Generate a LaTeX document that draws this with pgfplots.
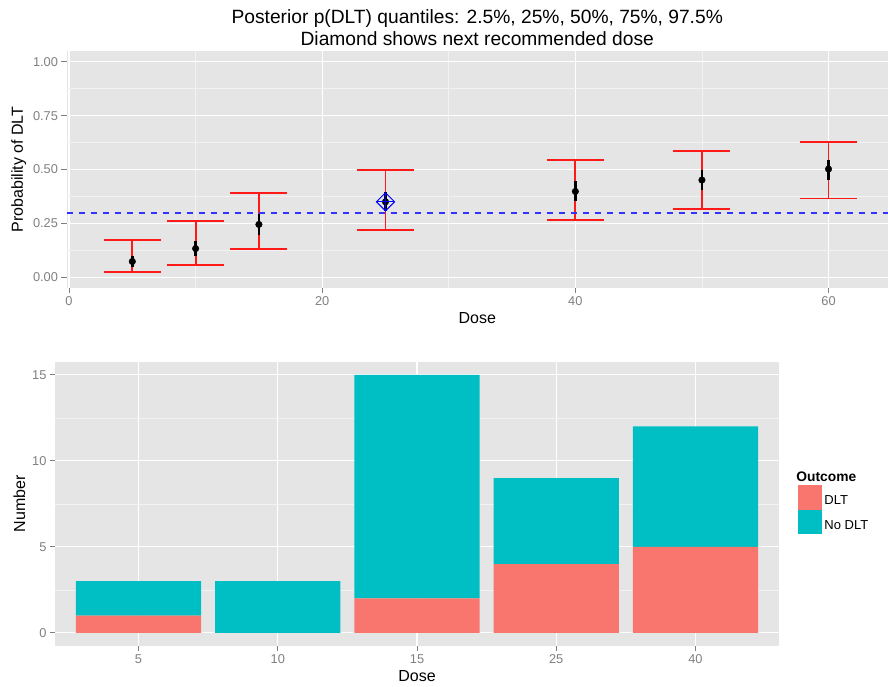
\documentclass[border=0pt]{standalone}
\usepackage{pgfplots}
\pgfplotsset{compat=1.18}
\usepackage{pgfplotstable}
\usepackage{fontspec}
\setmainfont{Liberation Sans}
\definecolor{ggbg}{HTML}{E5E5E5}
\definecolor{ggminor}{HTML}{F2F2F2}
\definecolor{ggtick}{HTML}{7F7F7F}
\definecolor{ggred}{HTML}{F8766D}
\definecolor{ggteal}{HTML}{00BFC4}
\definecolor{dashblue}{HTML}{3333FF}
\definecolor{barred}{HTML}{FF1A1A}

\pgfplotstableread{
dose med
5  0.073
10 0.133
15 0.245
25 0.350
40 0.398
50 0.451
60 0.502
}\medians

\pgfplotstableread{
idx dose dlt nodlt
0 5  1 2
1 10 0 3
2 15 2 13
3 25 4 5
4 40 5 7
}\counts

\pgfplotsset{
  ggstyle/.style={
    scale only axis,
    anchor=south west,
    axis background/.style={fill=ggbg},
    axis line style={draw=none},
    grid=both,
    major grid style={white, line width=1.2pt},
    minor grid style={ggminor, line width=0.6pt},
    tick align=outside,
    major tick length=5pt,
    minor tick length=0pt,
    tick style={ggtick, line width=0.8pt},
    xtick pos=lower, ytick pos=left,
    ticklabel style={font=\fontsize{12.8}{14}\selectfont, text=ggtick},
    /pgf/number format/assume math mode=true,
    label style={font=\fontsize{16}{18}\selectfont},
  }
}

\begin{document}
\begin{tikzpicture}
\useasboundingbox (0pt,0pt) rectangle (888pt,687pt);

% ---------- top panel ----------
\begin{axis}[ggstyle,
  at={(66.5pt,399pt)}, width=821.5pt, height=237pt,
  xmin=-0.2, xmax=64.7, ymin=-0.05, ymax=1.05,
  xtick={0,20,40,60}, minor xtick={10,30,50},
  ytick={0,0.25,0.5,0.75,1}, minor ytick={0.125,0.375,0.625,0.875},
  yticklabel style={/pgf/number format/.cd, fixed, fixed zerofill, precision=2},
  xlabel={Dose}, ylabel={Probability of DLT},
  title={Posterior p(DLT) quantiles: 2.5\%, 25\%, 50\%, 75\%, 97.5\%\\Diamond shows next recommended dose},
  title style={at={(0.5,1)}, anchor=south, inner sep=0pt, yshift=-0.8pt, align=center, font=\fontsize{19.2}{21.5}\selectfont},
  unbounded coords=jump,
  clip=false,
]
% 2.5%-97.5% intervals (vertical lines)
\addplot[barred, line width=1.8pt, forget plot] coordinates {
 (5,0.023) (5,0.174) (5,nan)
 (10,0.056) (10,0.260) (10,nan)
 (15,0.132) (15,0.390) (15,nan)
 (25,0.218) (25,0.496) (25,nan)
 (40,0.266) (40,0.543) (40,nan)
 (50,0.316) (50,0.587) (50,nan)
 (60,0.365) (60,0.629)
};
% caps
\addplot[barred, line width=1.8pt, forget plot] coordinates {
 (2.75,0.023) (7.25,0.023) (5,nan) (2.75,0.174) (7.25,0.174) (5,nan)
 (7.75,0.056) (12.25,0.056) (10,nan) (7.75,0.260) (12.25,0.260) (10,nan)
 (12.75,0.132) (17.25,0.132) (15,nan) (12.75,0.390) (17.25,0.390) (15,nan)
 (22.75,0.218) (27.25,0.218) (25,nan) (22.75,0.496) (27.25,0.496) (25,nan)
 (37.75,0.266) (42.25,0.266) (40,nan) (37.75,0.543) (42.25,0.543) (40,nan)
 (47.75,0.316) (52.25,0.316) (50,nan) (47.75,0.587) (52.25,0.587) (50,nan)
 (57.75,0.365) (62.25,0.365) (60,nan) (57.75,0.629) (62.25,0.629)
};
% 25%-75% intervals
\addplot[black, line width=2.8pt, forget plot] coordinates {
 (5,0.046) (5,0.100) (5,nan)
 (10,0.100) (10,0.170) (10,nan)
 (15,0.194) (15,0.294) (15,nan)
 (25,0.307) (25,0.395) (25,nan)
 (40,0.352) (40,0.448) (40,nan)
 (50,0.403) (50,0.497) (50,nan)
 (60,0.452) (60,0.543)
};
\addplot[dashblue, line width=2pt, dash pattern=on 6.5pt off 5.5pt, forget plot] coordinates {(-0.2,0.3) (64.7,0.3)};
\addplot[only marks, mark=*, mark size=3.3pt, black, forget plot] table[x=dose, y=med] {\medians};
\addplot[only marks, mark=square, mark size=6.4pt, mark options={rotate=45, blue, line width=1pt}, forget plot] coordinates {(25,0.350)};
\addplot[only marks, mark=+, mark size=9pt, mark options={blue, line width=1pt}, forget plot] coordinates {(25,0.350)};
\end{axis}

% ---------- bottom panel ----------
\begin{axis}[ggstyle,
  at={(55pt,41.3pt)}, width=724pt, height=283.7pt,
  xmin=-0.6, xmax=4.6, ymin=-0.75, ymax=15.75,
  xtick={0,1,2,3,4}, xticklabels={5,10,15,25,40},
  ytick={0,5,10,15}, minor ytick={2.5,7.5,12.5},
  xlabel={Dose}, ylabel={Number},
  ybar stacked, bar width=0.9,
  legend style={at={(axis description cs:1.026,0.62)}, anchor=north west,
    draw=none, fill=none, inner sep=0pt, row sep=0pt,
    font=\fontsize{13}{15}\selectfont},
  legend cell align=left,
  clip=false,
]
\addlegendimage{empty legend}
\addlegendentry{\hspace*{-28pt}\fontsize{13.8}{15}\selectfont\textbf{Outcome}}
\addplot[fill=ggred, draw=none,
  legend image code/.code={\fill[ggred] (0pt,-8.6pt) rectangle (24.4pt,15.8pt);}]
  table[x=idx, y=dlt] {\counts};
\addlegendentry{DLT}
\addplot[fill=ggteal, draw=none,
  legend image code/.code={\fill[ggteal] (0pt,-8.6pt) rectangle (24.4pt,15.8pt);}]
  table[x=idx, y=nodlt] {\counts};
\addlegendentry{No DLT}
\end{axis}
\end{tikzpicture}
\end{document}
